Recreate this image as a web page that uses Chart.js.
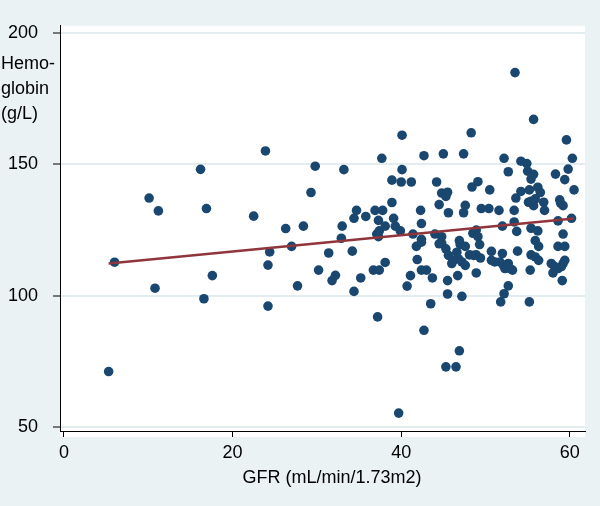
<!DOCTYPE html>
<html>
<head>
<meta charset="utf-8">
<script src="https://cdn.jsdelivr.net/npm/chart.js@4.4.1/dist/chart.umd.min.js"></script>
<style>
  html, body { margin: 0; padding: 0; background: #eaf2f3; }
  #wrap { position: relative; width: 600px; height: 506px; }
  .lbl {
    position: absolute; color: #000;
    font: 18px "Liberation Sans", Arial, sans-serif;
  }
  #ytitle { left: 1px; top: 51px; line-height: 25px; }
  #xtitle { left: 0; width: 664px; top: 466px; line-height: 22px; text-align: center; }
</style>
</head>
<body>
<div id="wrap">
  <canvas id="chart" width="600" height="506"></canvas>
  <div id="ytitle" class="lbl">Hemo-<br>globin<br>(g/L)</div>
  <div id="xtitle" class="lbl">GFR (mL/min/1.73m2)</div>
</div>
<script>
// GFR (x) and hemoglobin (y)
const gfr = [
  5.3, 6.0, 10.1, 11.2, 10.8, 16.2, 16.9, 16.6, 17.6, 22.5, 23.9, 24.4, 24.2, 24.2,
  26.3, 27.0, 27.7, 28.4, 29.3, 29.8, 30.2, 31.4, 31.8, 32.2, 32.9, 33.0, 33.2, 34.2,
  34.4, 34.4, 34.7, 35.2, 35.8, 36.7, 36.9, 37.1, 37.2, 37.3, 37.3, 37.4, 37.4, 37.7,
  37.8, 38.1, 38.1, 38.9, 38.9, 39.1, 39.3, 39.7, 39.9, 40.0, 40.1, 40.1, 40.7, 41.1,
  41.2, 41.4, 41.8, 41.9, 42.3, 42.4, 42.4, 42.4, 42.4, 42.7, 42.7, 43.0, 43.5, 43.7,
  44.0, 44.2, 44.5, 44.5, 44.8, 44.8, 44.8, 45.0, 45.3, 45.3, 45.3, 45.5, 45.5, 45.5,
  45.6, 45.6, 46.0, 46.2, 46.5, 46.6, 46.8, 46.7, 46.9, 46.9, 47.0, 47.2, 47.2, 47.4,
  47.4, 47.6, 47.6, 47.6, 48.1, 48.3, 48.4, 48.5, 48.6, 48.9, 48.9, 48.9, 49.1, 49.1,
  49.3, 49.4, 49.5, 50.4, 50.5, 50.7, 50.7, 51.1, 51.6, 51.7, 51.8, 52.0, 52.0, 52.1,
  52.2, 52.2, 52.3, 52.7, 52.7, 52.7, 52.9, 53.2, 53.4, 53.4, 53.5, 53.6, 53.7, 53.8,
  54.2, 54.2, 54.9, 55.0, 55.1, 55.2, 55.2, 55.3, 55.4, 55.4, 55.4, 55.4, 55.7, 55.7,
  55.7, 55.9, 55.9, 55.9, 56.2, 56.2, 56.3, 56.3, 56.5, 56.9, 57.0, 57.8, 58.0, 58.2,
  58.3, 58.6, 58.6, 58.6, 58.8, 58.9, 59.0, 59.1, 59.2, 59.2, 59.2, 59.4, 59.4, 59.4,
  59.6, 59.8, 60.2, 60.3, 60.5
];
const hemoglobin = [
  71.1, 112.7, 137.1, 132.2, 102.8, 148.0, 133.1, 98.8, 107.6, 130.2, 155.0, 116.6, 111.6, 96.0,
  125.5, 118.7, 103.7, 126.4, 139.2, 149.2, 109.7, 116.2, 105.7, 107.7, 121.8, 126.4, 147.9, 116.9,
  129.4, 101.6, 132.4, 106.7, 130.1, 109.7, 132.4, 123.4, 91.9, 128.6, 122.4, 124.6, 109.7, 152.2,
  132.4, 112.6, 126.4, 143.9, 135.4, 129.4, 126.4, 55.3, 124.6, 143.2, 161.0, 147.9, 103.6, 107.6,
  143.2, 123.4, 118.7, 113.7, 132.4, 127.4, 121.4, 120.3, 109.7, 153.2, 86.8, 109.7, 96.9, 106.7,
  123.4, 143.2, 134.6, 119.7, 139.0, 122.4, 119.9, 153.9, 72.9, 137.7, 117.8, 139.3, 105.7, 100.6,
  131.5, 115.3, 112.2, 113.4, 72.9, 116.5, 114.0, 107.6, 120.9, 79.0, 119.4, 112.8, 99.7, 153.9,
  131.5, 134.3, 118.7, 111.5, 115.5, 161.9, 141.3, 123.7, 115.3, 115.5, 124.9, 108.6, 143.3, 122.4,
  119.4, 114.3, 133.1, 133.1, 140.2, 116.8, 113.4, 112.8, 132.4, 112.8, 97.6, 126.4, 116.0, 111.6,
  152.2, 100.7, 110.3, 147.1, 112.2, 103.7, 110.3, 109.7, 132.4, 128.0, 184.8, 137.1, 124.4, 116.9,
  151.1, 139.6, 150.2, 147.3, 135.5, 140.2, 97.6, 109.7, 144.3, 135.9, 125.6, 115.5, 167.0, 146.1,
  134.2, 136.8, 120.9, 114.7, 141.2, 124.6, 118.7, 113.4, 139.2, 135.5, 132.4, 112.2, 108.6, 111.0,
  146.2, 128.4, 118.7, 110.3, 136.4, 135.2, 111.0, 105.7, 134.2, 123.4, 112.2, 144.1, 118.7, 113.4,
  159.2, 148.1, 129.4, 152.2, 140.2
];

// fitted line end points
const fitGfr = [5.3, 60.5];
const fitHb = [112.2, 129.3];

const xTicks = [0, 20, 40, 60];
const yTicks = [50, 100, 150, 200];

const font = { family: "'Liberation Sans', Arial, sans-serif", size: 18 };

const plotBg = {
  id: "plotBg",
  beforeDraw(chart) {
    const { ctx, chartArea: a } = chart;
    ctx.save();
    ctx.fillStyle = "#ffffff";
    ctx.fillRect(a.left, a.top, a.right - a.left, a.bottom - a.top + 6);
    ctx.restore();
  }
};

new Chart(document.getElementById("chart").getContext("2d"), {
  type: "scatter",
  data: {
    datasets: [
      {
        type: "line",
        data: fitGfr.map((x, i) => ({ x: x, y: fitHb[i] })),
        borderColor: "#90353b",
        borderWidth: 2.5,
        pointRadius: 0,
        fill: false,
        order: 0
      },
      {
        data: gfr.map((x, i) => ({ x: x, y: hemoglobin[i] })),
        backgroundColor: "#1a476f",
        borderWidth: 0,
        pointRadius: 4.8,
        order: 1
      }
    ]
  },
  options: {
    responsive: false,
    animation: false,
    layout: { padding: { top: 18, right: 15, left: 0, bottom: 0 } },
    plugins: { legend: { display: false }, tooltip: { enabled: false } },
    scales: {
      x: {
        type: "linear",
        min: -0.47,
        max: 61.8,
        afterBuildTicks: s => { s.ticks = xTicks.map(v => ({ value: v })); },
        afterFit: s => { s.height = 75; },
        border: { display: true, color: "#000", width: 1 },
        grid: { drawOnChartArea: false, drawTicks: true, tickLength: 6, tickColor: "#000", tickWidth: 1 },
        ticks: { color: "#000", font: font, padding: 5, maxRotation: 0 }
      },
      y: {
        type: "linear",
        min: 48.5,
        max: 202.6,
        afterBuildTicks: s => { s.ticks = yTicks.map(v => ({ value: v })); },
        afterFit: s => { s.width = 60; },
        border: { display: true, color: "#000", width: 1 },
        grid: { color: "#e3edf0", lineWidth: 2, drawTicks: true, tickLength: 7, tickColor: "#000", tickWidth: 1 },
        ticks: { color: "#000", font: font, padding: 15 }
      }
    }
  },
  plugins: [plotBg]
});
</script>
</body>
</html>
